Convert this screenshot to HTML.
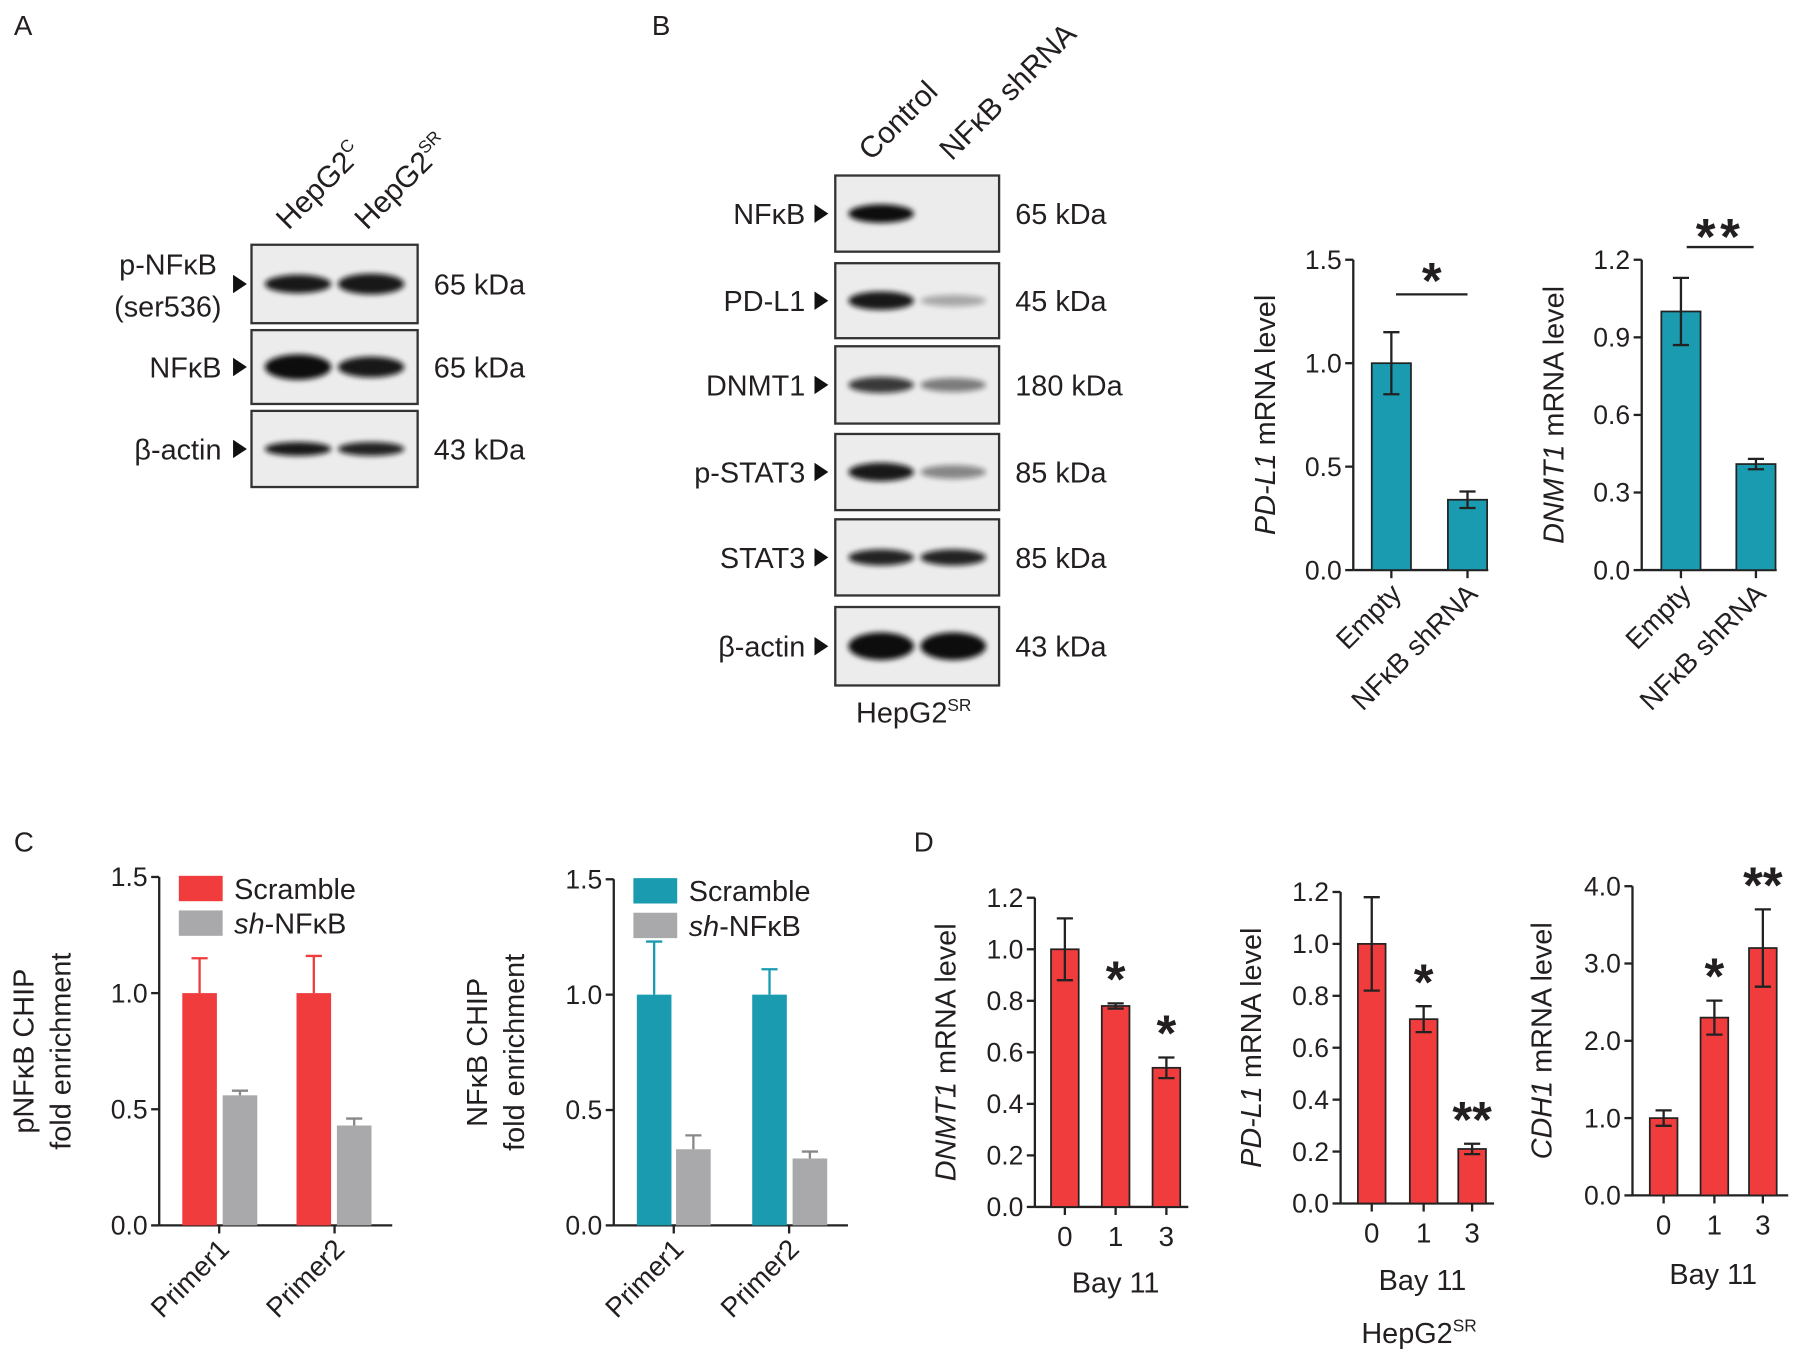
<!DOCTYPE html>
<html><head><meta charset="utf-8"><style>
html,body{margin:0;padding:0;background:#fff;}
svg{display:block;font-family:"Liberation Sans",Arial,sans-serif;}
</style></head><body>
<svg id="fig" width="1809" height="1364" viewBox="0 0 1568 1182" xmlns="http://www.w3.org/2000/svg">
<defs>
<filter id="blur" x="-20%" y="-50%" width="140%" height="200%"><feGaussianBlur stdDeviation="2.2"/></filter>
</defs>
<g id="static"></g>
</svg>
<script>
// ---------- data ----------
const bCats = ["Empty", "NFκB shRNA"];
const bPdl1 = [1.0, 0.34];
const bPdl1Err = [0.15, 0.04];
const bDnmt1 = [1.0, 0.41];
const bDnmt1Err = [0.13, 0.02];
const cCats = ["Primer1", "Primer2"];
const cSeries = ["Scramble", "sh-NFκB"];
const cPScramble = [1.0, 1.0];
const cPScrambleErr = [0.15, 0.16];
const cPSh = [0.56, 0.43];
const cPShErr = [0.02, 0.03];
const cNScramble = [1.0, 1.0];
const cNScrambleErr = [0.23, 0.11];
const cNSh = [0.33, 0.29];
const cNShErr = [0.06, 0.03];
const dCats = ["0", "1", "3"];
const dDnmt1 = [1.0, 0.78, 0.54];
const dDnmt1Err = [0.12, 0.01, 0.04];
const dPdl1 = [1.0, 0.71, 0.21];
const dPdl1Err = [0.18, 0.05, 0.02];
const dCdh1 = [1.0, 2.3, 3.2];
const dCdh1Err = [0.1, 0.22, 0.5];
const ticks15 = ["0.0", "0.5", "1.0", "1.5"];
const ticks12b = ["0.0", "0.3", "0.6", "0.9", "1.2"];
const ticks12d = ["0.0", "0.2", "0.4", "0.6", "0.8", "1.0", "1.2"];
const ticks4 = ["0.0", "1.0", "2.0", "3.0", "4.0"];

const NS = "http://www.w3.org/2000/svg";
const root = document.getElementById("static");
const RED = "#f03c3c", TEAL = "#1a9bb0", GRAY = "#a9a9ac", INK = "#231f20";

function el(tag, attrs, parent, text) {
  const e = document.createElementNS(NS, tag);
  for (const k in attrs) e.setAttribute(k, attrs[k]);
  if (text !== undefined) e.textContent = text;
  (parent || root).appendChild(e);
  return e;
}
function txt(x, y, s, size, anchor, parent, extra) {
  const a = Object.assign({x: x, y: y, "font-size": size, "text-anchor": anchor || "start", fill: INK}, extra || {});
  return el("text", a, parent, s);
}

// ---------- panel letters ----------
[["A", 12, 30], ["B", 565, 30], ["C", 12, 738], ["D", 792, 738]].forEach(p => {
  const t = txt(p[1], p[2], p[0], 24);
  
  
});

// ---------- blots ----------
function blot(x, y, w, h, bands, name) {
  const g = el("g", {});
  
  
  el("rect", {x: x, y: y, width: w, height: h, fill: "#ececec", stroke: "#333", "stroke-width": 2}, g);
  const lanes = [x + w * 0.28, x + w * 0.72];
  bands.forEach((b, i) => {
    if (b[0] <= 0) return;
    el("ellipse", {cx: lanes[i], cy: y + h / 2, rx: w * 0.2, ry: b[1], fill: "#111", opacity: b[0], filter: "url(#blur)"}, g);
  });
}
function arrowHead(x, y, parent) {
  el("polygon", {points: `${x},${y - 8} ${x + 12},${y} ${x},${y + 8}`, fill: "#111"}, parent);
}
// Panel A
const aRows = [[212, 68, "p-NFκB", "65 kDa", [[0.95, 8], [0.95, 9]]],
               [286, 64, "NFκB", "65 kDa", [[1, 11], [0.95, 9]]],
               [356, 66, "β-actin", "43 kDa", [[0.95, 6], [0.9, 6]]]];
aRows.forEach(r => {
  blot(218, r[0], 144, r[1], r[4], "blot-a-" + r[2].toLowerCase());
  const cy = r[0] + r[1] / 2;
  arrowHead(202, cy);
  txt(376, cy + 9, r[3], 25);
  if (r[2] === "p-NFκB") { txt(188, cy - 8, "p-NFκB", 25, "end"); txt(192, cy + 28, "(ser536)", 25, "end"); }
  else txt(192, cy + 9, r[2], 25, "end");
});
[["HepG2", "C", 250], ["HepG2", "SR", 318]].forEach(l => {
  const t = el("text", {x: 0, y: 0, "font-size": 26, fill: INK, transform: `translate(${l[2]},200) rotate(-45)`});
  
  
  el("tspan", {}, t, l[0]);
  el("tspan", {"font-size": 15, dy: -11}, t, l[1]);
});
// Panel B
const bRows = [[152, 66, "NFκB", "65 kDa", [[1, 8], [0, 0]]],
               [228, 65, "PD-L1", "45 kDa", [[0.95, 8], [0.3, 5]]],
               [300, 67, "DNMT1", "180 kDa", [[0.8, 7], [0.5, 6]]],
               [376, 66, "p-STAT3", "85 kDa", [[0.95, 8], [0.45, 6]]],
               [450, 66, "STAT3", "85 kDa", [[0.9, 7], [0.9, 7]]],
               [526, 68, "β-actin", "43 kDa", [[1, 12], [1, 12]]]];
bRows.forEach(r => {
  blot(724, r[0], 142, r[1], r[4], "blot-b-" + r[2].toLowerCase());
  const cy = r[0] + r[1] / 2;
  arrowHead(706, cy);
  txt(880, cy + 9, r[3], 25);
  txt(698, cy + 9, r[2], 25, "end");
});
[["Control", 755], ["NFκB shRNA", 825]].forEach(l => {
  const t = el("text", {x: 0, y: 0, "font-size": 26, fill: INK, transform: `translate(${l[1]},140) rotate(-45)`}, null, l[0]);
  
  
});
function supLabel(x, y, base, sup, name) {
  const t = el("text", {x: x, y: y, "font-size": 25, fill: INK, "text-anchor": "middle"});
  
  
  el("tspan", {}, t, base);
  el("tspan", {"font-size": 15, dy: -10}, t, sup);
}
supLabel(792, 626, "HepG2", "SR", "cell-line-label-b");

// ---------- bar chart helper ----------
function chart(o) {
  const g = el("g", {});
  
  
  const ymax = o.ymax;
  const sy = v => o.y0 - (v / ymax) * (o.y0 - o.ytop);
  // y axis
  el("line", {x1: o.ax, y1: o.ytop, x2: o.ax, y2: o.y0, stroke: "#222", "stroke-width": 2}, g);
  el("line", {x1: o.ax, y1: o.y0, x2: o.axEnd, y2: o.y0, stroke: "#222", "stroke-width": 2}, g);
  o.ticks.forEach((t, i) => {
    const v = ymax * i / (o.ticks.length - 1);
    const y = sy(v);
    el("line", {x1: o.ax - 7, y1: y, x2: o.ax, y2: y, stroke: "#222", "stroke-width": 2}, g);
    const tt = txt(o.ax - 10, y + 8, t, 23, "end", g);
    
    
  });
  // bars
  o.series.forEach(s => {
    s.vals.forEach((v, i) => {
      const cx = s.xs[i];
      const r = el("rect", {x: cx - o.bw / 2, y: sy(v), width: o.bw, height: o.y0 - sy(v), fill: s.color, stroke: o.barStroke || "none", "stroke-width": 1.5}, g);
      
      
      const e = s.errs[i];
      const yt = sy(v + e), yb = o.upOnly ? sy(v) : sy(v - e);
      const col = o.upOnly ? s.color === GRAY ? "#888" : s.color : "#222";
      el("line", {x1: cx, y1: yt, x2: cx, y2: yb, stroke: col, "stroke-width": 2}, g);
      el("line", {x1: cx - 7, y1: yt, x2: cx + 7, y2: yt, stroke: col, "stroke-width": 2}, g);
      if (!o.upOnly) el("line", {x1: cx - 7, y1: yb, x2: cx + 7, y2: yb, stroke: col, "stroke-width": 2}, g);
      if (s.stars && s.stars[i]) {
        const st = txt(cx, yt - 6, s.stars[i], 44, "middle", g, {"font-weight": "bold"});
        
        
      }
    });
  });
  // x labels
  o.xlabels.forEach((l, i) => {
    el("line", {x1: o.xticks[i], y1: o.y0, x2: o.xticks[i], y2: o.y0 + 7, stroke: "#222", "stroke-width": 2}, g);
    let t;
    if (o.rotX) {
      t = el("text", {x: 0, y: 0, "font-size": 24, fill: INK, "text-anchor": "end", transform: `translate(${o.xticks[i] + 10},${o.y0 + 22}) rotate(-45)`}, g);
      if (l === "NFκB shRNA") { t.textContent = l; }
      else t.textContent = l;
    } else t = txt(o.xticks[i], o.y0 + 34, l, 24, "middle", g);
    
    
  });
  // y title
  const yt = el("text", {x: 0, y: 0, "font-size": 25, fill: INK, "text-anchor": "middle", transform: `translate(${o.ytx},${(o.ytop + o.y0) / 2}) rotate(-90)`}, g);
  
  
  if (o.ytItalic) { el("tspan", {"font-style": "italic"}, yt, o.ytItalic); el("tspan", {}, yt, " mRNA level"); }
  else {
    el("tspan", {x: 0, dy: -16}, yt, o.yt1);
    el("tspan", {x: 0, dy: 32}, yt, o.yt2);
  }
  return {g: g, sy: sy};
}

// Panel B charts
const b1 = chart({name: "chart-b-pdl1", ax: 1173, axEnd: 1290, y0: 494, ytop: 225, ymax: 1.5, ticks: ticks15, bw: 34,
  series: [{key: "pdl1", color: TEAL, vals: bPdl1, errs: bPdl1Err, xs: [1206, 1272]}], barStroke: "#222",
  xlabels: bCats, xticks: [1206, 1272], rotX: true, ytx: 1105, ytItalic: "PD-L1"});
el("line", {x1: 1210, y1: 255, x2: 1272, y2: 255, stroke: "#222", "stroke-width": 2}, b1.g);
txt(1241, 258, "*", 44, "middle", b1.g, {"font-weight": "bold"});
const b2 = chart({name: "chart-b-dnmt1", ax: 1423, axEnd: 1540, y0: 494, ytop: 225, ymax: 1.2, ticks: ticks12b, bw: 34,
  series: [{key: "dnmt1", color: TEAL, vals: bDnmt1, errs: bDnmt1Err, xs: [1457, 1522]}], barStroke: "#222",
  xlabels: bCats, xticks: [1457, 1522], rotX: true, ytx: 1355, ytItalic: "DNMT1"});
el("line", {x1: 1462, y1: 214, x2: 1520, y2: 214, stroke: "#222", "stroke-width": 2}, b2.g);
txt(1491, 220, "**", 44, "middle", b2.g, {"font-weight": "bold", "letter-spacing": 4});

// Panel C charts
function legend(x, y, color, parent) {
  el("rect", {x: x, y: y, width: 38, height: 22, fill: color}, parent);
  txt(x + 48, y + 20, cSeries[0], 25, "start", parent);
  el("rect", {x: x, y: y + 30, width: 38, height: 22, fill: GRAY}, parent);
  const t = el("text", {x: x + 48, y: y + 50, "font-size": 25, fill: INK}, parent);
  el("tspan", {"font-style": "italic"}, t, "sh");
  el("tspan", {}, t, "-NFκB");
}
const c1 = chart({name: "chart-c-pnfkb", ax: 138, axEnd: 340, y0: 1062, ytop: 760, ymax: 1.5, ticks: ticks15, bw: 30, upOnly: true,
  series: [{key: "scramble", color: RED, vals: cPScramble, errs: cPScrambleErr, xs: [173, 272]},
           {key: "sh", color: GRAY, vals: cPSh, errs: cPShErr, xs: [208, 307]}],
  xlabels: cCats, xticks: [190, 290], rotX: true, ytx: 45, yt1: "pNFκB CHIP", yt2: "fold enrichment"});
legend(155, 759, RED, c1.g);
const c2 = chart({name: "chart-c-nfkb", ax: 532, axEnd: 735, y0: 1062, ytop: 762, ymax: 1.5, ticks: ticks15, bw: 30, upOnly: true,
  series: [{key: "scramble", color: TEAL, vals: cNScramble, errs: cNScrambleErr, xs: [567, 667]},
           {key: "sh", color: GRAY, vals: cNSh, errs: cNShErr, xs: [601, 702]}],
  xlabels: cCats, xticks: [584, 684], rotX: true, ytx: 438, yt1: "NFκB CHIP", yt2: "fold enrichment"});
legend(549, 761, TEAL, c2.g);

// Panel D charts
chart({name: "chart-d-dnmt1", ax: 897, axEnd: 1030, y0: 1046, ytop: 778, ymax: 1.2, ticks: ticks12d, bw: 24, barStroke: "#222",
  series: [{key: "dnmt1", color: RED, vals: dDnmt1, errs: dDnmt1Err, xs: [923, 967, 1011], stars: ["", "*", "*"]}],
  xlabels: dCats, xticks: [923, 967, 1011], ytx: 828, ytItalic: "DNMT1"});
txt(967, 1120, "Bay 11", 25, "middle");
chart({name: "chart-d-pdl1", ax: 1162, axEnd: 1295, y0: 1043, ytop: 773, ymax: 1.2, ticks: ticks12d, bw: 24, barStroke: "#222",
  series: [{key: "pdl1", color: RED, vals: dPdl1, errs: dPdl1Err, xs: [1189, 1234, 1276], stars: ["", "*", "**"]}],
  xlabels: dCats, xticks: [1189, 1234, 1276], ytx: 1093, ytItalic: "PD-L1"});
txt(1233, 1118, "Bay 11", 25, "middle");
supLabel(1230, 1164, "HepG2", "SR", "cell-line-label-d");
chart({name: "chart-d-cdh1", ax: 1415, axEnd: 1550, y0: 1036, ytop: 768, ymax: 4.0, ticks: ticks4, bw: 24, barStroke: "#222",
  series: [{key: "cdh1", color: RED, vals: dCdh1, errs: dCdh1Err, xs: [1442, 1486, 1528], stars: ["", "*", "**"]}],
  xlabels: dCats, xticks: [1442, 1486, 1528], ytx: 1345, ytItalic: "CDH1"});
txt(1485, 1113, "Bay 11", 25, "middle");
</script>
</body></html>
